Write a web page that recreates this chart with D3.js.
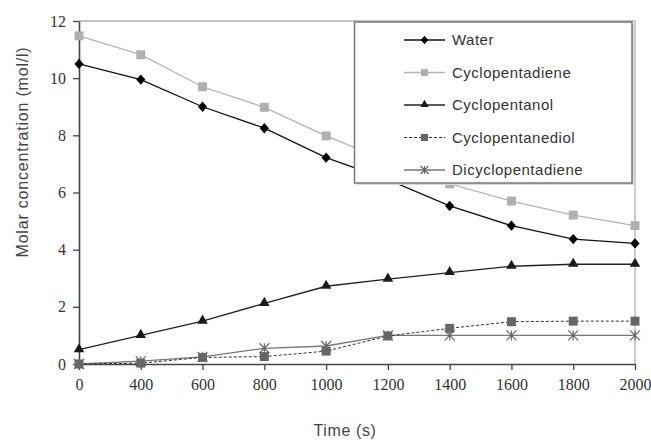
<!DOCTYPE html>
<html>
<head>
<meta charset="utf-8">
<script src="https://cdn.jsdelivr.net/npm/d3@7"></script>
<style>
  body { margin: 0; background: #fff; }
  svg { display: block; }
</style>
</head>
<body>
<svg id="chart" width="651" height="441"></svg>
<script>
// time categories (s)
var times = ["0", "400", "600", "800", "1000", "1200", "1400", "1600", "1800", "2000"];

// molar concentrations (mol/l)
var water            = [10.5, 9.95, 9.0, 8.25, 7.22, 6.45, 5.53, 4.84, 4.37, 4.22];
var cyclopentadiene  = [11.48, 10.82, 9.7, 8.98, 7.98, 7.1, 6.3, 5.7, 5.21, 4.84];
var cyclopentanol    = [0.5, 1.0, 1.5, 2.12, 2.72, 2.97, 3.2, 3.42, 3.49, 3.49];
var cyclopentanediol = [0.0, 0.03, 0.23, 0.26, 0.45, 0.98, 1.25, 1.48, 1.5, 1.5];
var dicyclopentadiene = [0.0, 0.1, 0.25, 0.55, 0.63, 1.0, 1.0, 1.0, 1.0, 1.0];

var yTicks = [0, 2, 4, 6, 8, 10, 12];

var seriesNames = ["Water", "Cyclopentadiene", "Cyclopentanol", "Cyclopentanediol", "Dicyclopentadiene"];
var seriesValues = [water, cyclopentadiene, cyclopentanol, cyclopentanediol, dicyclopentadiene];

// styles per series
var styles = [
  { line: "#111", width: 1.3, dash: null, marker: "diamond", fill: "#000" },
  { line: "#b4b4b4", width: 1.3, dash: null, marker: "square", fill: "#b0b0b0" },
  { line: "#222", width: 1.3, dash: null, marker: "triangle", fill: "#1a1a1a" },
  { line: "#333", width: 1, dash: "3,2", marker: "square", fill: "#666" },
  { line: "#777", width: 1.3, dash: null, marker: "asterisk", fill: "#666" }
];

var svg = d3.select("#chart");
var plotL = 79, plotR = 635, plotT = 21, plotB = 364;

var x = d3.scalePoint().domain(times).range([plotL, plotR]);
var y = d3.scaleLinear().domain([0, 12]).range([plotB, plotT]);

// frame: top and right borders
svg.append("line")
  .attr("x1", plotL).attr("x2", plotR)
  .attr("y1", plotT).attr("y2", plotT)
  .attr("stroke", "#8a8a8a").attr("stroke-width", 1.2);
svg.append("line")
  .attr("x1", plotR).attr("x2", plotR)
  .attr("y1", plotT).attr("y2", plotB)
  .attr("stroke", "#bdbdbd").attr("stroke-width", 1.5);

// axes
var xAxis = svg.append("g")
  .attr("transform", "translate(0," + plotB + ")")
  .call(d3.axisBottom(x).tickSize(6).tickPadding(6).tickSizeOuter(0));
var yAxis = svg.append("g")
  .attr("transform", "translate(" + plotL + ",0)")
  .call(d3.axisLeft(y).tickValues(yTicks).tickSize(6).tickPadding(7).tickSizeOuter(0));

[xAxis, yAxis].forEach(function(ax) {
  ax.select(".domain").attr("stroke", "#444").attr("stroke-width", 1.6);
  ax.selectAll(".tick line").attr("stroke", "#444").attr("stroke-width", 1.3);
  ax.selectAll(".tick text")
    .attr("fill", "#333")
    .style("font-family", "'Liberation Serif', 'DejaVu Serif', serif")
    .style("font-size", "16px");
});
xAxis.selectAll(".tick text").attr("dy", "0.85em");

// axis titles
svg.append("text")
  .attr("x", 345).attr("y", 436)
  .attr("text-anchor", "middle")
  .attr("fill", "#444")
  .style("font-family", "'Liberation Sans', Arial, sans-serif")
  .style("font-size", "16px")
  .style("letter-spacing", "0.6px")
  .text("Time (s)");

svg.append("text")
  .attr("transform", "translate(28,152) rotate(-90)")
  .attr("text-anchor", "middle")
  .attr("fill", "#444")
  .style("font-family", "'Liberation Sans', Arial, sans-serif")
  .style("font-size", "16px")
  .style("letter-spacing", "0.8px")
  .text("Molar concentration (mol/l)");

// marker drawing; k scales the marker (legend uses smaller ones)
function drawMarker(g, st, cx, cy, k) {
  k = k || 1;
  if (st.marker === "diamond") {
    var w = 4.6 * k, h = 5.2 * k;
    g.append("path")
      .attr("d", "M0," + (-h) + "L" + w + ",0L0," + h + "L" + (-w) + ",0Z")
      .attr("transform", "translate(" + cx + "," + cy + ")")
      .attr("fill", st.fill);
  } else if (st.marker === "square") {
    g.append("path")
      .attr("d", d3.symbol().type(d3.symbolSquare).size(80 * k * k)())
      .attr("transform", "translate(" + cx + "," + cy + ")")
      .attr("fill", st.fill);
  } else if (st.marker === "triangle") {
    g.append("path")
      .attr("d", d3.symbol().type(d3.symbolTriangle).size(48 * k * k)())
      .attr("transform", "translate(" + cx + "," + (cy - 0.5) + ")")
      .attr("fill", st.fill);
  } else if (st.marker === "asterisk") {
    var r = 5 * k;
    g.append("path")
      .attr("d", "M" + (-r) + "," + (-r) + "L" + r + "," + r +
                 "M" + (-r) + "," + r + "L" + r + "," + (-r) +
                 "M0," + (-r) + "L0," + r)
      .attr("transform", "translate(" + cx + "," + cy + ")")
      .attr("stroke", st.fill).attr("stroke-width", 1.2).attr("fill", "none");
  }
}

var line = d3.line()
  .x(function(d, i) { return x(times[i]); })
  .y(function(d) { return y(d); });

// draw series (last first so water sits on top)
for (var s = seriesValues.length - 1; s >= 0; s--) {
  var st = styles[s];
  var g = svg.append("g");
  g.append("path")
    .datum(seriesValues[s])
    .attr("d", line)
    .attr("fill", "none")
    .attr("stroke", st.line)
    .attr("stroke-width", st.width)
    .attr("stroke-dasharray", st.dash);
  seriesValues[s].forEach(function(v, i) {
    drawMarker(g, st, x(times[i]), y(v));
  });
}

// legend
var lg = svg.append("g");
lg.append("rect")
  .attr("x", 356.5).attr("y", 24).attr("width", 277.5).attr("height", 161)
  .attr("fill", "#d8d8d8");
lg.append("rect")
  .attr("x", 354.5).attr("y", 22).attr("width", 277.5).attr("height", 161)
  .attr("fill", "#fff").attr("stroke", "#777").attr("stroke-width", 1.5);

seriesNames.forEach(function(name, i) {
  var st = styles[i];
  var cy = 40 + i * 32.5;
  lg.append("line")
    .attr("x1", 404).attr("x2", 445)
    .attr("y1", cy).attr("y2", cy)
    .attr("stroke", st.line)
    .attr("stroke-width", st.width)
    .attr("stroke-dasharray", st.dash);
  drawMarker(lg, st, 424.5, cy, 0.8);
  lg.append("text")
    .attr("x", 452).attr("y", cy)
    .attr("dy", "0.36em")
    .attr("fill", "#333")
    .style("font-family", "'Liberation Sans', Arial, sans-serif")
    .style("font-size", "15px")
    .style("letter-spacing", "0.5px")
    .text(name);
});
</script>
</body>
</html>
